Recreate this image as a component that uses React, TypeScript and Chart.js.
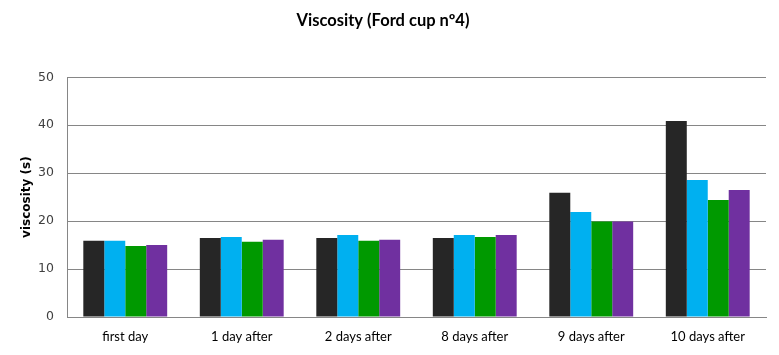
import React, { useEffect, useRef } from "react";
import { Chart, registerables } from "chart.js";

Chart.register(...registerables);

const categories = ["first day", "1 day after", "2 days after", "8 days after", "9 days after", "10 days after"];
const series1 = [15.9, 16.5, 16.5, 16.5, 25.9, 40.9];
const series2 = [15.9, 16.7, 17.1, 17.1, 21.9, 28.6];
const series3 = [14.8, 15.7, 15.9, 16.7, 19.9, 24.4];
const series4 = [15.0, 16.1, 16.1, 17.1, 19.9, 26.5];
const seriesNames = ["Sample 1", "Sample 2", "Sample 3", "Sample 4"];
const colors = ["#262626", "#00B0F0", "#009900", "#7030A0"];
const yTicks = [0, 10, 20, 30, 40, 50];

const FONT = "Lato, 'Open Sans', sans-serif";
const YFONT = "'DejaVu Sans', Verdana, sans-serif";

export default function App() {
  const ref = useRef<HTMLCanvasElement | null>(null);

  useEffect(() => {
    document.body.style.margin = "0";
    const ctx = ref.current;
    if (!ctx) return;
    const all = [series1, series2, series3, series4];
    const chart = new Chart(ctx, {
      type: "bar",
      data: {
        labels: categories,
        datasets: all.map((d, i) => ({
          label: seriesNames[i],
          data: d,
          backgroundColor: colors[i],
          borderWidth: 0,
          barPercentage: 1,
          categoryPercentage: 0.72,
        })),
      },
      options: {
        responsive: false,
        animation: false,
        layout: { padding: { left: 0, right: 13, top: 0, bottom: 0 } },
        plugins: {
          legend: { display: false },
          tooltip: { enabled: false },
          title: {
            display: true,
            text: "Viscosity (Ford cup nº4)",
            color: "#000000",
            font: { family: FONT, size: 16.5, weight: "bold" },
            padding: { top: 11, bottom: 46.5 },
          },
        },
        scales: {
          x: {
            grid: { display: false, drawTicks: false },
            border: { display: true, color: "#868686", width: 1 },
            ticks: {
              color: "#000000",
              font: { family: FONT, size: 13 },
              padding: 12,
              maxRotation: 0,
            },
            afterFit: (s: any) => {
              s.height = 38;
            },
          },
          y: {
            min: 0,
            max: 50,
            afterBuildTicks: (s: any) => {
              s.ticks = yTicks.map((v) => ({ value: v }));
            },
            grid: { color: "#868686", lineWidth: 1, drawTicks: false },
            border: { display: true, color: "#868686", width: 1 },
            ticks: {
              color: "#404040",
              font: { family: YFONT, size: 12.5 },
              padding: 13,
            },
            title: {
              display: true,
              text: "viscosity (s)",
              color: "#000000",
              font: { family: YFONT, size: 12, weight: "bold" },
              padding: { top: 20, bottom: 0 },
            },
            afterFit: (s: any) => {
              s.width = 67;
            },
          },
        },
      },
    });
    return () => chart.destroy();
  }, []);

  return <canvas ref={ref} width={779} height={355} style={{ display: "block" }} />;
}
